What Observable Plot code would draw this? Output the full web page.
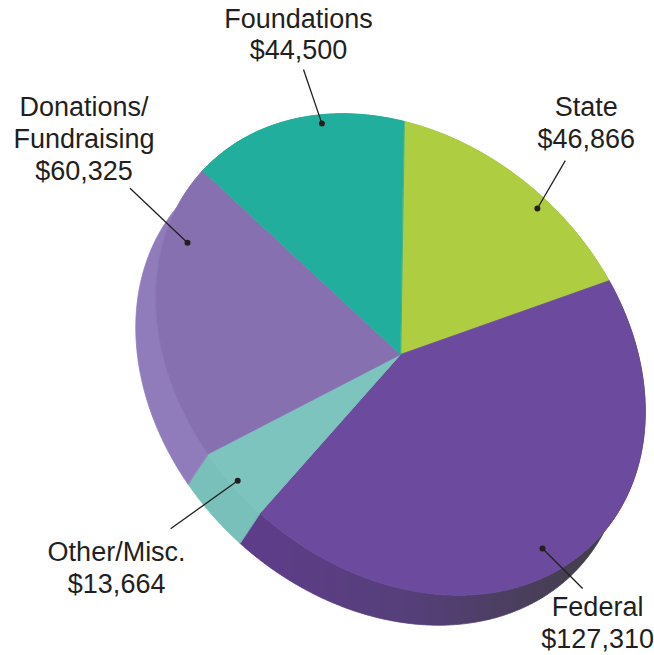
<!DOCTYPE html>
<html>
<head>
<meta charset="utf-8">
<script src="https://cdn.jsdelivr.net/npm/d3@7"></script>
<script src="https://cdn.jsdelivr.net/npm/@observablehq/plot@0.6"></script>
<style>
  html, body { margin: 0; padding: 0; background: #ffffff; }
  #chart svg { display: block; }
</style>
</head>
<body>
<div id="chart"></div>
<script>
// ---- data ----
const categories = ["State", "Federal", "Other/Misc.", "Donations/\nFundraising", "Foundations"];
const values = [46866, 127310, 13664, 60325, 44500];

// ---- styles ----
const faceColors = ["#afcd41", "#6c4a9e", "#7cc4bd", "#8670b0", "#22ae9c"];
const sideColors = ["#9ab83a", "url(#federalSide)", "#78c0b9", "#907cba", "#1f9c8c"];
const textColor = "#231f20";

// ---- geometry of the tilted disc (layout) ----
const W = 654, H = 655;
const CX = 400, CY = 354;          // pie apex in the frame
const RA = 270, RB = 212;          // projected semi-axes
const TILT = 43, PHASE = 234.6;    // ellipse rotation, angle phase (degrees)
const EXTRUDE = [-20, 30];         // visible thickness of the disc

// label layout: [angle delta from slice middle, radius] for dot and line end; text offset
const labelLayout = [
  {dot: [6.7, 0.944], end: [4.5, 1.20], off: [21, -13], anchor: "bottom"},
  {dot: [3.1, 0.90], end: [1.0, 1.107], off: [15, 4.5], anchor: "top"},
  {dot: [0.0, 0.967], end: [0.5, 1.353], off: [-54, 9.5], anchor: "top"},
  {dot: [18, 0.91], end: [22.8, 1.19], off: [-46, -8], anchor: "bottom"},
  {dot: [7.1, 0.964], end: [7.1, 1.19], off: [-5, -10], anchor: "bottom"}
];

const rad = Math.PI / 180;
function project(theta, r) {
  const t = (theta + PHASE) * rad;
  const p = RA * r * Math.cos(t), q = RB * r * Math.sin(t);
  const c = Math.cos(TILT * rad), s = Math.sin(TILT * rad);
  return [c * p - s * q, s * p + c * q];
}

const total = d3.sum(values);
let acc = 0;
const slices = values.map((v, i) => {
  const a0 = acc / total * 360; acc += v;
  const a1 = acc / total * 360;
  return {i, a0, a1, mid: (a0 + a1) / 2};
});

function arc(s) {
  const n = Math.max(2, Math.ceil((s.a1 - s.a0) / 0.5));
  return d3.range(n + 1).map(k => project(s.a0 + (s.a1 - s.a0) * k / n, 1));
}

const faceRows = [];
const stripRows = [];
for (const s of slices) {
  faceRows.push({slice: s.i, x: 0, y: 0});
  const pts = arc(s);
  for (const [x, y] of pts) faceRows.push({slice: s.i, x, y});
  for (const [x, y] of pts) stripRows.push({slice: s.i, x, y});
  for (const [x, y] of pts.slice().reverse()) stripRows.push({slice: s.i, x: x + EXTRUDE[0], y: y + EXTRUDE[1]});
}

const fmt = d3.format(",");
const labels = slices.map((s, i) => {
  const L = labelLayout[i];
  const [x1, y1] = project(s.mid + L.dot[0], L.dot[1]);
  const [x2, y2] = project(s.mid + L.end[0], L.end[1]);
  return {x1, y1, x2, y2, tx: x2 + L.off[0], ty: y2 + L.off[1], anchor: L.anchor,
          text: categories[i] + "\n$" + fmt(values[i])};
});

const textOpts = {x: "tx", y: "ty", text: "text", textAnchor: "middle", fontSize: 27,
                  lineHeight: 1.185, fill: textColor, fontFamily: "'Liberation Sans', Arial, sans-serif"};

const chart = Plot.plot({
  width: W, height: H, margin: 0,
  x: {domain: [-CX, W - CX], range: [0, W], axis: null},
  y: {domain: [-CY, H - CY], range: [0, H], axis: null},
  color: {type: "identity"},
  marks: [
    Plot.line(stripRows, {x: "x", y: "y", z: "slice", curve: "linear-closed",
      fill: d => sideColors[d.slice], stroke: d => sideColors[d.slice], strokeWidth: 0.8}),
    Plot.line(faceRows, {x: "x", y: "y", z: "slice", curve: "linear-closed",
      fill: d => faceColors[d.slice], stroke: d => faceColors[d.slice], strokeWidth: 0.8}),
    Plot.link(labels, {x1: "x1", y1: "y1", x2: "x2", y2: "y2", stroke: textColor, strokeWidth: 1.3}),
    Plot.dot(labels, {x: "x1", y: "y1", r: 3, fill: textColor, stroke: "none"}),
    Plot.text(labels.filter(d => d.anchor === "bottom"), {...textOpts, lineAnchor: "bottom"}),
    Plot.text(labels.filter(d => d.anchor === "top"), {...textOpts, lineAnchor: "top"})
  ]
});

const ns = "http://www.w3.org/2000/svg";
const defs = document.createElementNS(ns, "defs");
defs.innerHTML = '<linearGradient id="federalSide" gradientUnits="userSpaceOnUse" x1="230" y1="0" x2="600" y2="0">' +
  '<stop offset="0" stop-color="#5f3c8c"/><stop offset="0.5" stop-color="#553f78"/><stop offset="1" stop-color="#423e49"/></linearGradient>';
chart.prepend(defs);
document.getElementById("chart").appendChild(chart);
</script>
</body>
</html>
